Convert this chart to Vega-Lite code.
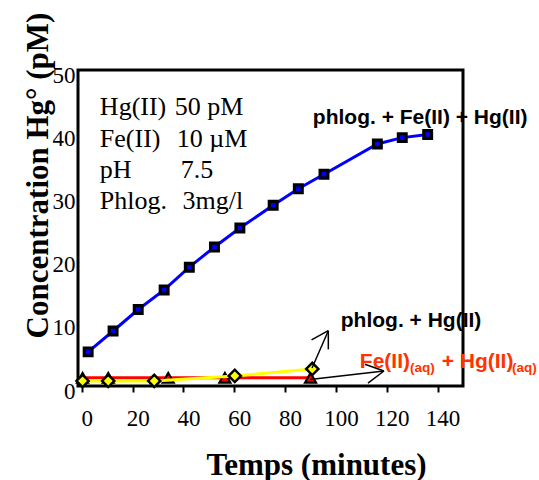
{
  "$schema": "https://vega.github.io/schema/vega-lite/v6.json",
  "width": 385,
  "height": 316,
  "autosize": {"type": "none"},
  "padding": {"left": 78, "top": 70, "right": 76, "bottom": 94},
  "background": "white",
  "config": {
    "view": {"stroke": "black", "strokeWidth": 3},
    "axis": {
      "grid": false,
      "domain": false,
      "labelFont": "Liberation Serif",
      "labelFontSize": 23,
      "labelColor": "black",
      "labelFlush": false,
      "labelOverlap": false,
      "titleFont": "Liberation Serif",
      "titleFontSize": 31,
      "titleFontWeight": "bold",
      "titleColor": "black"
    }
  },
  "datasets": {
    "blue": [
      {"t": 2.5, "c": 5.4}, {"t": 12.3, "c": 8.7}, {"t": 22.2, "c": 12.1},
      {"t": 32.4, "c": 15.2}, {"t": 42.3, "c": 18.8}, {"t": 52.2, "c": 22.0},
      {"t": 62.2, "c": 25.0}, {"t": 75.3, "c": 28.6}, {"t": 85.2, "c": 31.2},
      {"t": 95.3, "c": 33.5}, {"t": 116.3, "c": 38.3}, {"t": 126.1, "c": 39.3},
      {"t": 136.1, "c": 39.8}
    ],
    "red": [
      {"t": 0.3, "c": 1.3}, {"t": 10.4, "c": 1.3}, {"t": 34.0, "c": 1.3},
      {"t": 56.3, "c": 1.3}, {"t": 90.0, "c": 1.3}
    ],
    "yellow": [
      {"t": 0.3, "c": 0.8}, {"t": 10.4, "c": 0.8}, {"t": 28.5, "c": 0.8},
      {"t": 60.2, "c": 1.6}, {"t": 90.7, "c": 2.7}
    ],
    "arrows": [
      {"t": 90.6, "c": 2.85, "t2": 97.0, "c2": 8.75},
      {"t": 90.4, "c": 7.3, "t2": 97.0, "c2": 8.75},
      {"t": 97.0, "c": 5.8, "t2": 97.0, "c2": 8.75},
      {"t": 89.8, "c": 1.03, "t2": 118.9, "c2": 2.37},
      {"t": 111.4, "c": 3.43, "t2": 118.9, "c2": 2.37},
      {"t": 112.6, "c": 0.47, "t2": 118.9, "c2": 2.37}
    ],
    "blackLabels": [
      {"t": 90.9, "c": 42.4, "text": "phlog. + Fe(II) + Hg(II)"},
      {"t": 101.9, "c": 10.3, "text": "phlog. + Hg(II)"}
    ],
    "redMain": [
      {"t": 109.4, "c": 3.85, "text": "Fe(II)"},
      {"t": 141.6, "c": 3.85, "text": "+ Hg(II)"}
    ],
    "redSub": [
      {"t": 129.1, "c": 2.85, "text": "(aq)"},
      {"t": 169.3, "c": 2.85, "text": "(aq)"}
    ],
    "box": [
      {"t": 7.1, "c": 44.2, "text": "Hg(II)"},
      {"t": 7.1, "c": 39.1, "text": "Fe(II)"},
      {"t": 7.1, "c": 34.2, "text": "pH"},
      {"t": 7.1, "c": 29.2, "text": "Phlog."},
      {"t": 36.6, "c": 44.2, "text": "50 pM"},
      {"t": 37.4, "c": 39.1, "text": "10 µM"},
      {"t": 38.9, "c": 34.2, "text": "7.5"},
      {"t": 39.6, "c": 29.2, "text": "3mg/l"}
    ]
  },
  "encoding": {
    "x": {
      "field": "t",
      "type": "quantitative",
      "scale": {"domain": [-1.5, 150], "nice": false, "zero": false},
      "axis": {
        "values": [0, 20, 40, 60, 80, 100, 120, 140],
        "ticks": true,
        "tickSize": 6,
        "tickWidth": 2,
        "tickColor": "black",
        "labelPadding": 15,
        "labelOffset": 5,
        "title": "Temps (minutes)",
        "titleX": 238,
        "titleY": 88,
        "titleAlign": "center",
        "titleBaseline": "alphabetic"
      }
    },
    "y": {
      "field": "c",
      "type": "quantitative",
      "scale": {"domain": [0, 50], "nice": false, "zero": false},
      "axis": {
        "values": [0, 10, 20, 30, 40, 50],
        "ticks": false,
        "labelPadding": 3,
        "labelOffset": 5,
        "labelBaseline": "middle",
        "title": "Concentration Hg° (pM)",
        "titleX": -31,
        "titleY": 105,
        "titleAngle": -90,
        "titleAlign": "center",
        "titleBaseline": "alphabetic"
      }
    }
  },
  "layer": [
    {"data": {"name": "red"}, "mark": {"type": "line", "color": "#ff0000", "strokeWidth": 3}},
    {"data": {"name": "red"}, "mark": {"type": "point", "shape": "triangle-up", "filled": true, "fill": "#ff0000", "stroke": "black", "strokeWidth": 2.2, "size": 120, "opacity": 1}},
    {"data": {"name": "yellow"}, "mark": {"type": "line", "color": "#ffff00", "strokeWidth": 3}},
    {"data": {"name": "yellow"}, "mark": {"type": "point", "shape": "diamond", "filled": true, "fill": "#ffff00", "stroke": "black", "strokeWidth": 2.4, "size": 150, "opacity": 1}},
    {"data": {"name": "blue"}, "mark": {"type": "line", "color": "#0000ff", "strokeWidth": 3}},
    {"data": {"name": "blue"}, "mark": {"type": "point", "shape": "square", "filled": true, "fill": "#0000ff", "stroke": "black", "strokeWidth": 3.2, "size": 60, "opacity": 1}},
    {"data": {"name": "arrows"}, "mark": {"type": "rule", "color": "black", "strokeWidth": 1.5},
     "encoding": {"x2": {"field": "t2"}, "y2": {"field": "c2"}}},
    {"data": {"name": "blackLabels"}, "mark": {"type": "text", "font": "Liberation Sans", "fontWeight": "bold", "fontSize": 21, "color": "black", "align": "left", "baseline": "middle"},
     "encoding": {"text": {"field": "text"}}},
    {"data": {"name": "redMain"}, "mark": {"type": "text", "font": "Liberation Sans", "fontWeight": "bold", "fontSize": 21, "color": "#ff3300", "align": "left", "baseline": "middle"},
     "encoding": {"text": {"field": "text"}}},
    {"data": {"name": "redSub"}, "mark": {"type": "text", "font": "Liberation Sans", "fontWeight": "bold", "fontSize": 13.5, "color": "#ff3300", "align": "left", "baseline": "middle"},
     "encoding": {"text": {"field": "text"}}},
    {"data": {"name": "box"}, "mark": {"type": "text", "font": "Liberation Serif", "fontSize": 26, "color": "black", "align": "left", "baseline": "middle"},
     "encoding": {"text": {"field": "text"}}}
  ]
}
